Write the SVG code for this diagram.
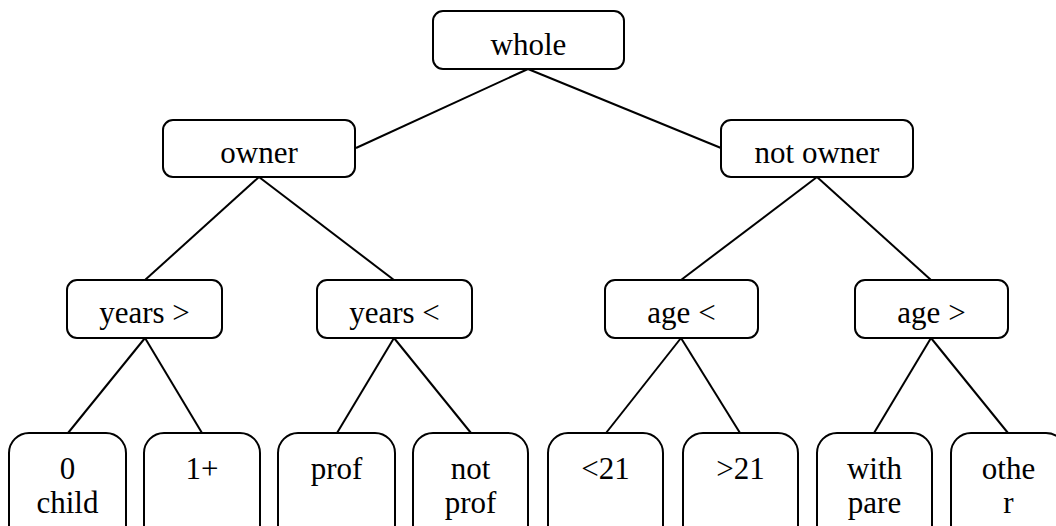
<svg xmlns="http://www.w3.org/2000/svg" width="1056" height="526" viewBox="0 0 1056 526">
<style>
.b{fill:#fff;stroke:#000;stroke-width:2}
.c line{stroke:#000;stroke-width:2}
</style>
<rect width="1056" height="526" fill="#fff"/>
<g class="c" id="connectors">
<line x1="528" y1="69" x2="356" y2="148"/>
<line x1="528" y1="69" x2="721" y2="148"/>
<line x1="259" y1="177" x2="145" y2="280"/>
<line x1="259" y1="177" x2="394" y2="280"/>
<line x1="817" y1="177" x2="681" y2="280"/>
<line x1="817" y1="177" x2="931" y2="280"/>
<line x1="145" y1="338" x2="68" y2="433"/>
<line x1="145" y1="338" x2="202" y2="433"/>
<line x1="394" y1="338" x2="337" y2="433"/>
<line x1="394" y1="338" x2="471" y2="433"/>
<line x1="681" y1="338" x2="606" y2="433"/>
<line x1="681" y1="338" x2="740" y2="433"/>
<line x1="931" y1="338" x2="874" y2="433"/>
<line x1="931" y1="338" x2="1008" y2="433"/>
</g>
<g font-family="Liberation Serif, Times New Roman, serif" font-size="31" text-anchor="middle" fill="#000">
<g id="whole"><rect class="b" x="433" y="11" width="191" height="58" rx="10"/><text x="528.5" y="55">whole</text></g>
<g id="owner"><rect class="b" x="163" y="120" width="192" height="57" rx="10"/><text x="259" y="163">owner</text></g>
<g id="not-owner"><rect class="b" x="721" y="120" width="192" height="57" rx="10"/><text x="817" y="163">not owner</text></g>
<g id="years-gt"><rect class="b" x="67" y="280" width="155" height="58" rx="10"/><text x="144.5" y="323">years &gt;</text></g>
<g id="years-lt"><rect class="b" x="317" y="280" width="155" height="58" rx="10"/><text x="394.5" y="323">years &lt;</text></g>
<g id="age-lt"><rect class="b" x="605" y="280" width="153" height="58" rx="10"/><text x="681.5" y="323">age &lt;</text></g>
<g id="age-gt"><rect class="b" x="855" y="280" width="153" height="58" rx="10"/><text x="931.5" y="323">age &gt;</text></g>
<g id="leaf-0child"><rect class="b" x="9" y="433" width="117" height="120" rx="20"/><text x="67.5" y="479">0</text><text x="67.5" y="513">child</text></g>
<g id="leaf-1plus"><rect class="b" x="144" y="433" width="116" height="120" rx="20"/><text x="202" y="479">1+</text></g>
<g id="leaf-prof"><rect class="b" x="278" y="433" width="117" height="120" rx="20"/><text x="336.5" y="479">prof</text></g>
<g id="leaf-notprof"><rect class="b" x="413" y="433" width="115" height="120" rx="20"/><text x="470.5" y="479">not</text><text x="470.5" y="513">prof</text></g>
<g id="leaf-lt21"><rect class="b" x="548" y="433" width="115" height="120" rx="20"/><text x="605.5" y="479">&lt;21</text></g>
<g id="leaf-gt21"><rect class="b" x="683" y="433" width="115" height="120" rx="20"/><text x="740.5" y="479">&gt;21</text></g>
<g id="leaf-withpare"><rect class="b" x="817" y="433" width="115" height="120" rx="20"/><text x="874.5" y="479">with</text><text x="874.5" y="513">pare</text></g>
<g id="leaf-other"><rect class="b" x="951" y="433" width="115" height="120" rx="20"/><text x="1008.5" y="479">othe</text><text x="1008.5" y="513">r</text></g>
</g>
</svg>
